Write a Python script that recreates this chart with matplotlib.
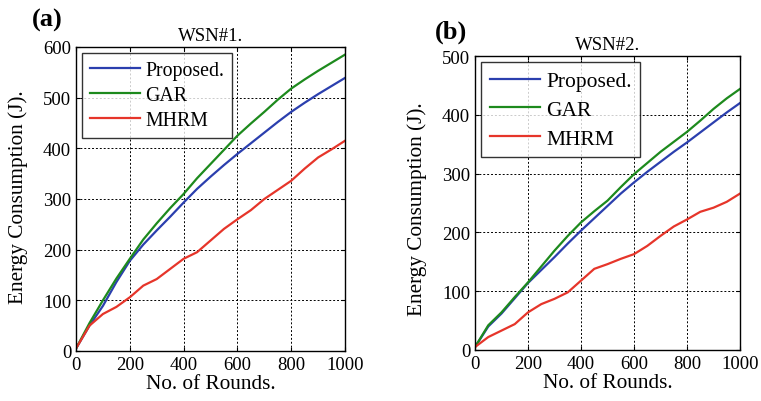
import numpy as np
import matplotlib.pyplot as plt

plt.rcParams['font.family'] = ['Liberation Serif', 'DejaVu Serif']

rounds = [0, 50, 100, 150, 200, 250, 300, 350, 400, 450, 500, 550, 600,
          650, 700, 750, 800, 850, 900, 950, 1000]
x_ticks = [0, 200, 400, 600, 800, 1000]

# WSN#1
a_proposed = [5, 50, 89, 136, 178, 210, 238, 265, 293, 320, 344, 367, 389,
              410, 431, 452, 472, 490, 507, 523, 539]
a_gar = [5, 55, 100, 143, 182, 220, 252, 282, 310, 341, 369, 397, 425,
         449, 472, 496, 518, 536, 553, 569, 585]
a_mhrm = [5, 50, 73, 87, 106, 129, 142, 162, 182, 195, 218, 241, 260,
          278, 300, 318, 336, 360, 382, 398, 415]

# WSN#2
b_proposed = [5, 40, 62, 88, 114, 136, 158, 181, 203, 224, 245, 266, 285,
              303, 320, 337, 353, 370, 387, 404, 420]
b_gar = [5, 42, 64, 90, 115, 142, 169, 194, 217, 236, 254, 277, 299,
         318, 337, 354, 371, 390, 410, 428, 444]
b_mhrm = [5, 22, 33, 44, 64, 78, 87, 98, 118, 138, 146, 155, 163,
          177, 194, 210, 222, 235, 242, 252, 266]

labels = ['Proposed.', 'GAR', 'MHRM']
colors = ['#2b3fae', '#1d8a1d', '#e6352a']

fig = plt.figure(figsize=(7.61, 4.02), dpi=100)
ax1 = fig.add_axes([0.0999, 0.1244, 0.3535, 0.7562])
ax2 = fig.add_axes([0.6242, 0.1269, 0.3482, 0.7313])

panels = [
    (ax1, [a_proposed, a_gar, a_mhrm], 600, 'WSN#1.', '(a)', (0.042, 0.948),
     14.3, 2.5, 0.3, (-0.178, 0.51)),
    (ax2, [b_proposed, b_gar, b_mhrm], 500, 'WSN#2.', '(b)', (0.572, 0.92),
     15.5, 2.3, 0.4, (-0.181, 0.483)),
]

for ax, series, ymax, title, tag, tagpos, lfs, hl, ls, ylpos in panels:
    for s, lab, c in zip(series, labels, colors):
        ax.plot(rounds, s, color=c, lw=1.6, label=lab)
    ax.set_xlim(0, 1000)
    ax.set_ylim(0, ymax)
    ax.set_xticks(x_ticks)
    ax.set_yticks(range(0, ymax + 1, 100))
    ax.grid(True, color='black', linestyle=(0, (2, 2)), lw=0.7)
    ax.tick_params(direction='in', labelsize=13.5, length=3, top=True, right=True)
    ax.set_title(title, fontsize=13.5, pad=5)
    ax.set_xlabel('No. of Rounds.', fontsize=15.3, labelpad=1)
    ax.set_ylabel('Energy Consumption (J).', fontsize=15.3)
    ax.yaxis.set_label_coords(ylpos[0], ylpos[1])
    for sp in ax.spines.values():
        sp.set_linewidth(1.0)
    leg = ax.legend(loc='upper left', fontsize=lfs, frameon=True, fancybox=False,
                    edgecolor='black', handlelength=hl, borderaxespad=0.3,
                    labelspacing=ls, handletextpad=0.3, borderpad=0.4)
    leg.get_frame().set_linewidth(1.0)
    fig.text(tagpos[0], tagpos[1], tag, fontsize=19, fontweight='bold',
             ha='left', va='center')

fig.savefig('out.png', dpi=100)
